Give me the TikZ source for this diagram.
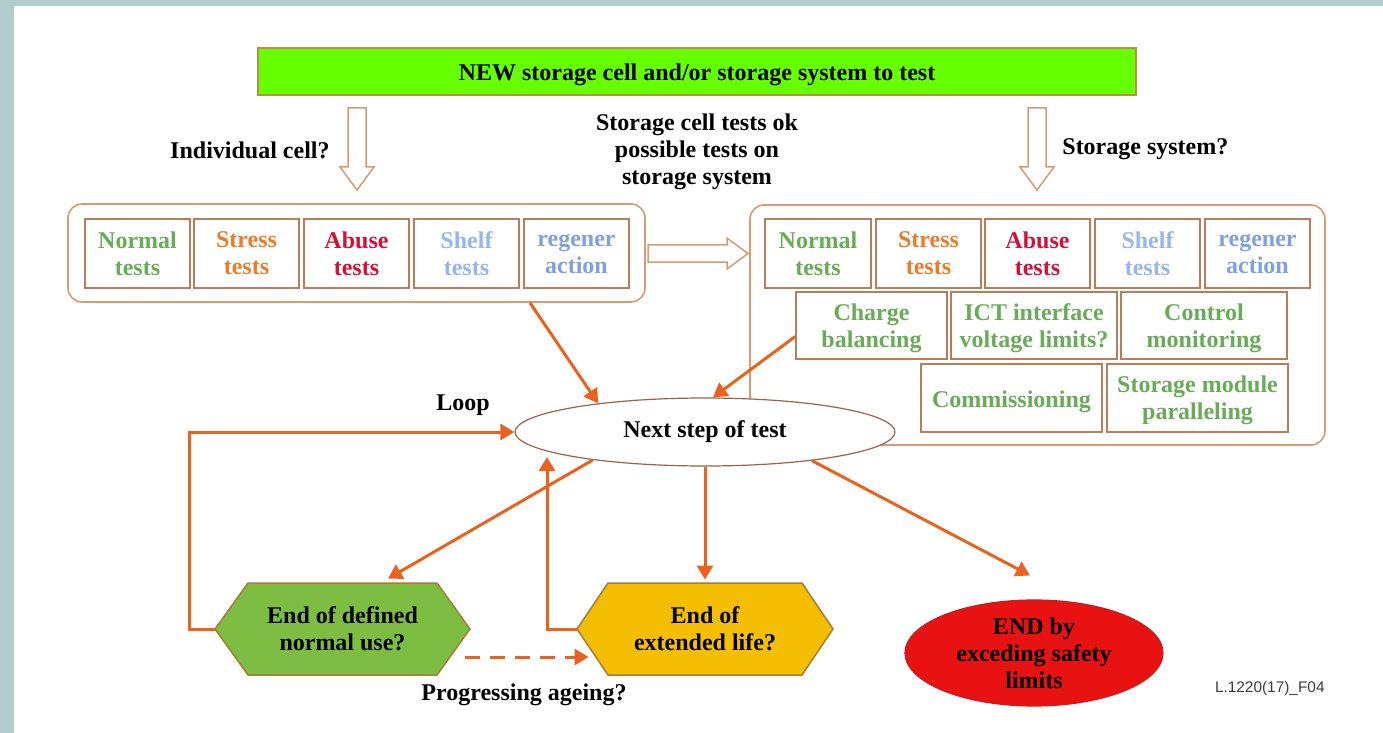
\documentclass[tikz,border=0pt]{standalone}
\usepackage{fontspec}
\setmainfont{Liberation Serif}
\setsansfont{Liberation Sans}
\usetikzlibrary{shapes.geometric,arrows.meta,fit,calc}
\definecolor{bgc}{RGB}{176,206,204}
\definecolor{boxc}{RGB}{185,125,90}
\definecolor{contc}{RGB}{215,155,115}
\definecolor{arrc}{RGB}{234,98,30}
\definecolor{topg}{RGB}{102,255,0}
\definecolor{topb}{RGB}{190,140,70}
\definecolor{hexg}{RGB}{125,190,66}
\definecolor{hexy}{RGB}{245,190,0}
\definecolor{hexb}{RGB}{165,125,55}
\definecolor{redf}{RGB}{232,18,18}
\definecolor{redb}{RGB}{200,30,30}
\definecolor{ellb}{RGB}{150,100,75}
\definecolor{tgreen}{RGB}{105,172,88}
\definecolor{torange}{RGB}{236,124,42}
\definecolor{tred}{RGB}{212,18,55}
\definecolor{tshelf}{RGB}{150,182,236}
\definecolor{tregen}{RGB}{128,160,222}
\begin{document}
\begin{tikzpicture}[x=0.5pt,y=-0.5pt,
  font=\fontsize{12}{13.5}\selectfont\bfseries,
  tbox/.style={draw=boxc, line width=0.75pt, fill=white, inner sep=0pt},
  cont/.style={draw=contc, line width=0.8pt, rounded corners=7pt, inner sep=0pt, fill=white},
  arr/.style={draw=arrc, line width=1.5pt, -{Triangle[length=7pt,width=8pt]}},
  hollow/.style={draw=contc, line width=0.75pt, fill=white},
  lbl/.style={inner sep=0pt, align=center},
  blbl/.style={inner sep=0pt, align=center, yshift=-2pt, execute at begin node=\strut, execute at end node=\strut},
  hexnode/.style={inner sep=0pt}]
% background
\fill[bgc] (0,0) rectangle (1383,733);
\fill[white] (14,6) rectangle (1383,733);
\useasboundingbox (0,0) rectangle (1383,733);

% top box
\node[fit={(258,48) (1136,95)}, draw=topb, fill=topg, line width=0.75pt, inner sep=0pt,
  label={[blbl]center:NEW storage cell and/or storage system to test}] (top) {};

% hollow arrows
\draw[hollow] (348,108) -- (366,108) -- (366,167) -- (374,167) -- (357,190) -- (340,167) -- (348,167) -- cycle;
\draw[hollow] (1028,108) -- (1046,108) -- (1046,167) -- (1054,167) -- (1037,190) -- (1020,167) -- (1028,167) -- cycle;

% labels
\node[lbl, anchor=east] (ind) at (330,150) {Individual cell?};
\node[lbl] (mid) at (697,152) {Storage cell tests ok\\possible tests on\\storage system};
\node[lbl, anchor=west] (sys) at (1062,149) {Storage system?};

% left container
\node[cont, fit={(68,204) (645,302)}] (lc) {};
\node[tbox, fit={(85,219) (190,288)},  label={[blbl,text=tgreen]center:Normal\\tests}]  (l1) {};
\node[tbox, fit={(194,219) (299,288)}, label={[blbl,text=torange]center:Stress\\tests}] (l2) {};
\node[tbox, fit={(304,219) (409,288)}, label={[blbl,text=tred]center:Abuse\\tests}]    (l3) {};
\node[tbox, fit={(414,219) (519,288)}, label={[blbl,text=tshelf]center:Shelf\\tests}]  (l4) {};
\node[tbox, fit={(524,219) (629,288)}, label={[blbl,text=tregen]center:regener\\action}] (l5) {};

% horizontal hollow arrow
\draw[hollow] (648,245) -- (727,245) -- (727,238) -- (748,253.5) -- (727,269) -- (727,262) -- (648,262) -- cycle;

% right container
\node[cont, fit={(750,205) (1325,445)}] (rc) {};
\node[tbox, fit={(765,219) (871,288)},   label={[blbl,text=tgreen]center:Normal\\tests}]  (r1) {};
\node[tbox, fit={(876,219) (981,288)},   label={[blbl,text=torange]center:Stress\\tests}] (r2) {};
\node[tbox, fit={(985,219) (1090,288)},  label={[blbl,text=tred]center:Abuse\\tests}]    (r3) {};
\node[tbox, fit={(1095,219) (1200,288)}, label={[blbl,text=tshelf]center:Shelf\\tests}]  (r4) {};
\node[tbox, fit={(1205,219) (1310,288)}, label={[blbl,text=tregen]center:regener\\action}] (r5) {};
\node[tbox, fit={(796,292) (947,359)},   label={[blbl,text=tgreen]center:Charge\\balancing}] (cb) {};
\node[tbox, fit={(951,292) (1117,359)},  label={[blbl,text=tgreen]center:ICT interface\\voltage limits?}] (ict) {};
\node[tbox, fit={(1121,292) (1287,359)}, label={[blbl,text=tgreen]center:Control\\monitoring}] (ctl) {};
\node[tbox, fit={(921,364) (1102,432)},  label={[blbl,text=tgreen]center:Commissioning}] (com) {};
\node[tbox, fit={(1107,364) (1288,432)}, label={[blbl,text=tgreen]center:Storage module\\paralleling}] (smp) {};

% central ellipse
\node[ellipse, draw=ellb, line width=0.6pt, fill=white, minimum width=190pt, minimum height=34pt, inner sep=0pt] (nxt) at (705,432) {Next step of test};

% hexagons
\draw[draw=hexb, fill=hexg, line width=0.75pt] (215,629) -- (248,583) -- (437,583) -- (470,629) -- (437,675) -- (248,675) -- cycle;
\node[hexnode, fit={(215,583) (470,675)}, label={[blbl]center:End of defined\\normal use?}] (hexA) {};
\draw[draw=hexb, fill=hexy, line width=0.75pt] (577,629) -- (608,583) -- (802,583) -- (833,629) -- (802,675) -- (608,675) -- cycle;
\node[hexnode, fit={(577,583) (833,675)}, label={[blbl]center:End of\\extended life?}] (hexB) {};

% red ellipse
\node[ellipse, draw=redb, fill=redf, line width=0.6pt, minimum width=129pt, minimum height=53pt, inner sep=0pt, align=center] (red) at (1034,653) {END by\\exceding safety\\limits};

% connectors
\draw[arr] (lc.south -| 530,0) -- (nxt.165);
\draw[arr] ($(cb.west)+(0,11)$) -- (nxt.77);
\draw[arr] (hexA.west) -- (hexA.west -| 189,0) |- (nxt.west);
\draw[arr] (nxt.194.5) -- ($(hexA.north -| 388,0)+(0,-4)$);
\coordinate (b5) at (547,457);
\draw[arr] (hexB.west) -| (b5);
\draw[arr] (nxt.south) -- ($(hexB.north)+(0,-3)$);
\draw[arr] (nxt.-15) -- ($(red.north)+(-4,-24)$);
\draw[arr, dash pattern=on 7.5pt off 5pt] ($(hexA.east)+(-5,28)$) -- ($(hexB.west)+(12,28)$);

\node[lbl] (loop) at (463,405) {Loop};
\node[lbl] (prog) at (524,695) {Progressing ageing?};
\node[lbl, anchor=east, text={rgb,255:red,60;green,60;blue,60}, font=\fontsize{7.7}{9}\selectfont\sffamily\mdseries] (fig) at (1325,689) {L.1220(17)\_F04};
\end{tikzpicture}
\end{document}
